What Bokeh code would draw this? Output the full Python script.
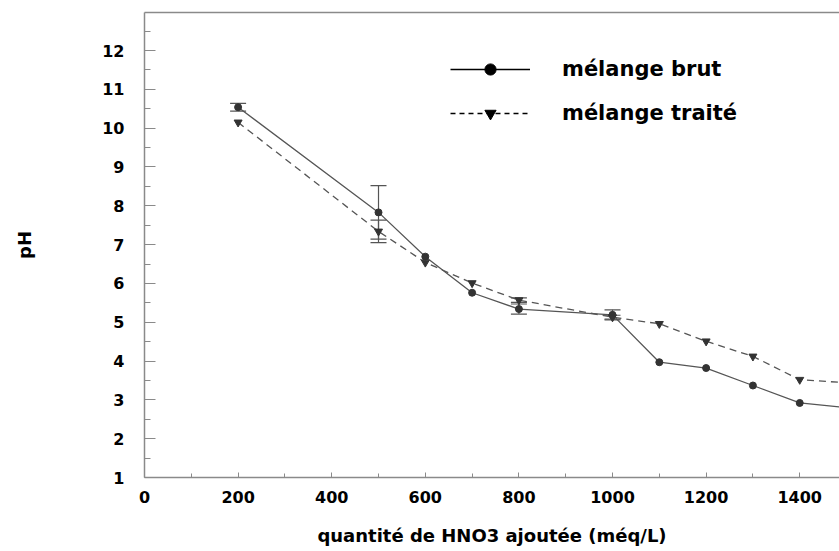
from bokeh.plotting import figure
from bokeh.models import (Range1d, LinearAxis, FixedTicker,
                          Whisker, TeeHead, ColumnDataSource, Legend, LegendItem)
from bokeh.embed import file_html
from bokeh.resources import INLINE

# ---- data ----
x_brut = [200, 500, 600, 700, 800, 1000, 1100, 1200, 1300, 1400, 1500]
ph_brut = [10.54, 7.83, 6.69, 5.76, 5.34, 5.19, 3.97, 3.82, 3.37, 2.92, 2.80]
err_brut = [0.10, 0.69, 0.0, 0.0, 0.13, 0.13, 0.0, 0.0, 0.0, 0.0, 0.0]

x_traite = [200, 500, 600, 700, 800, 1000, 1100, 1200, 1300, 1400, 1500]
ph_traite = [10.15, 7.34, 6.54, 6.01, 5.57, 5.13, 4.96, 4.51, 4.12, 3.52, 3.44]
err_traite = [0.0, 0.29, 0.0, 0.0, 0.06, 0.05, 0.0, 0.0, 0.0, 0.0, 0.0]

x_ticks = [0, 200, 400, 600, 800, 1000, 1200, 1400]
y_ticks = list(range(1, 13))

series_names = ["mélange brut", "mélange traité"]
x_title = "quantité de HNO3 ajoutée (méq/L)"
y_title = "pH"

FONT = "DejaVu Sans"
LINE_COL = "#555555"
MARK_COL = "#333333"
AXIS_COL = "#8a8a8a"

p = figure(width=839, height=551, output_backend="svg", toolbar_location=None,
           x_range=Range1d(0, 1485), y_range=Range1d(1, 12.98),
           min_border_left=144, min_border_right=0, min_border_top=12,
           min_border_bottom=74, x_axis_label=x_title, y_axis_label=y_title)

p.background_fill_color = "white"
p.border_fill_color = "white"
p.outline_line_color = None
p.xgrid.visible = False
p.ygrid.visible = False

# x axis
xa = p.xaxis[0]
xa.ticker = FixedTicker(ticks=x_ticks, minor_ticks=list(range(100, 1500, 200)))
xa.axis_line_color = AXIS_COL
xa.axis_line_width = 1.5
xa.major_tick_line_color = AXIS_COL
xa.minor_tick_line_color = AXIS_COL
xa.major_tick_in = 5
xa.major_tick_out = 0
xa.minor_tick_in = 4
xa.minor_tick_out = 0
xa.major_label_standoff = 13
xa.major_label_text_font = FONT
xa.major_label_text_font_style = "bold"
xa.major_label_text_font_size = "16px"
xa.major_label_text_color = "black"
xa.axis_label_text_font = FONT
xa.axis_label_text_font_style = "bold"
xa.axis_label_text_font_size = "18px"
xa.axis_label_text_color = "black"
xa.axis_label_standoff = 19

# y axis
ya = p.yaxis[0]
ya.ticker = FixedTicker(ticks=y_ticks, minor_ticks=[v + 0.5 for v in y_ticks])
ya.axis_line_color = AXIS_COL
ya.axis_line_width = 1.5
ya.major_tick_line_color = AXIS_COL
ya.minor_tick_line_color = AXIS_COL
ya.major_tick_in = 11
ya.major_tick_out = 0
ya.minor_tick_in = 6
ya.minor_tick_out = 0
ya.major_label_standoff = 20
ya.major_label_text_font = FONT
ya.major_label_text_font_style = "bold"
ya.major_label_text_font_size = "16px"
ya.major_label_text_color = "black"
ya.axis_label_text_font = FONT
ya.axis_label_text_font_style = "bold"
ya.axis_label_text_font_size = "18px"
ya.axis_label_text_color = "black"
ya.axis_label_standoff = 64

# top frame line
top = LinearAxis(ticker=FixedTicker(ticks=[]), axis_line_color=AXIS_COL,
                 axis_line_width=1.5, major_tick_line_color=None,
                 minor_tick_line_color=None, major_label_text_font_size="0px")
p.add_layout(top, "above")


# error bars (only where an error was measured)
def err_source(xs, ys, es):
    keep = [i for i, e in enumerate(es) if e > 0]
    return ColumnDataSource(dict(x=[xs[i] for i in keep],
                                 lo=[ys[i] - es[i] for i in keep],
                                 hi=[ys[i] + es[i] for i in keep]))


for s in (err_source(x_brut, ph_brut, err_brut),
          err_source(x_traite, ph_traite, err_traite)):
    w = Whisker(source=s, base="x", lower="lo", upper="hi",
                line_color=LINE_COL, line_width=1.2,
                upper_head=TeeHead(size=16, line_color=LINE_COL, line_width=1.2),
                lower_head=TeeHead(size=16, line_color=LINE_COL, line_width=1.2))
    p.add_layout(w)

# series
l1 = p.line(x_brut, ph_brut, line_color=LINE_COL, line_width=1.3)
m1 = p.scatter(x_brut, ph_brut, marker="circle", size=7,
               fill_color=MARK_COL, line_color=MARK_COL)
l2 = p.line(x_traite, ph_traite, line_color=LINE_COL, line_width=1.3,
            line_dash="7 5")
m2 = p.scatter(x_traite, ph_traite, marker="inverted_triangle", size=8,
               fill_color=MARK_COL, line_color=MARK_COL)

# hidden renderers that only serve as legend glyphs
lg1 = p.line(x_brut, ph_brut, line_color="black", line_width=1.3, visible=False)
lgm1 = p.scatter(x_brut, ph_brut, marker="circle", size=11, fill_color="black",
                 line_color="black", visible=False)
lg2 = p.line(x_traite, ph_traite, line_color="black", line_width=1.3,
             line_dash="5 4", visible=False)
lgm2 = p.scatter(x_traite, ph_traite, marker="inverted_triangle", size=11,
                 fill_color="black", line_color="black", visible=False)

legend = Legend(items=[LegendItem(label=series_names[0], renderers=[lg1, lgm1]),
                       LegendItem(label=series_names[1], renderers=[lg2, lgm2])],
                location=(306, 350), orientation="vertical")
legend.click_policy = "none"
legend.glyph_width = 80
legend.glyph_height = 28
legend.label_height = 20
legend.spacing = 16
legend.padding = 0
legend.margin = 0
legend.label_standoff = 32
legend.border_line_color = None
legend.background_fill_alpha = 0
legend.label_text_font = FONT
legend.label_text_font_style = "bold"
legend.label_text_font_size = "21px"
legend.label_text_color = "black"
p.add_layout(legend, "center")

open("out.html", "w").write(file_html(p, INLINE))
